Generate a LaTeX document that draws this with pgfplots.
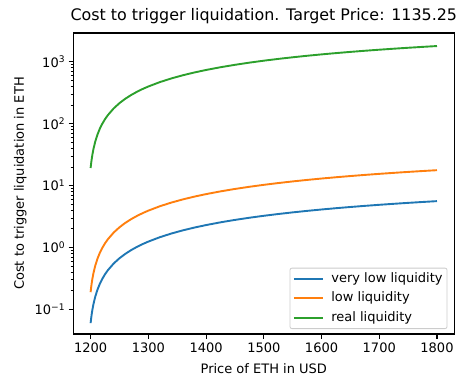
\documentclass[border=0pt]{standalone}
\usepackage{fontspec}
\setmainfont{DejaVu Sans}
\usepackage{pgfplots}
\usepackage{pgfplotstable}
\pgfplotsset{compat=1.18}
\definecolor{tabblue}{HTML}{1F77B4}
\definecolor{taborange}{HTML}{FF7F0E}
\definecolor{tabgreen}{HTML}{2CA02C}
\newcommand{\fs}{\fontsize{13}{15.6}\selectfont}
\pgfplotstableread{
x blue orange green
1200 0.0600 0.1897 19.20
1201 0.0726 0.2296 23.23
1202 0.0851 0.2691 27.23
1203 0.0977 0.3089 31.26
1205 0.1227 0.3880 39.26
1208 0.1601 0.5062 51.23
1212 0.2098 0.6634 67.14
1216 0.2592 0.8196 82.94
1220 0.3084 0.9752 98.69
1225 0.3696 1.1687 118.27
1230 0.4304 1.3609 137.73
1240 0.551 1.7423 176.3
1250 0.670 2.1185 214.4
1260 0.7875 2.4901 252.0
1270 0.9037 2.8575 289.2
1280 1.0186 3.2208 325.95
1290 1.1321 3.5797 362.27
1300 1.244 3.9335 398.1
1320 1.4648 4.6317 468.7
1340 1.6804 5.3134 537.7
1360 1.8912 5.9800 605.2
1380 2.0975 6.6323 671.2
1400 2.299 7.2694 735.7
1425 2.5455 8.0489 814.6
1450 2.785 8.8062 891.2
1475 3.019 9.5461 966.1
1500 3.247 10.267 1039.0
1525 3.469 10.969 1110.1
1550 3.686 11.655 1179.5
1575 3.898 12.325 1247.4
1600 4.104 12.977 1313.3
1625 4.306 13.616 1377.9
1650 4.503 14.238 1441.0
1675 4.696 14.849 1502.7
1700 4.885 15.446 1563.2
1725 5.069 16.028 1622.1
1750 5.250 16.601 1680.0
1775 5.426 17.157 1736.3
1800 5.599 17.704 1791.7
}\datatable
\begin{document}
\begin{tikzpicture}
\begin{axis}[
  scale only axis,
  width=381pt, height=301pt,
  ymode=log,
  xmin=1170, xmax=1830,
  ymin=0.04, ymax=2910,
  xtick={1200,1300,1400,1500,1600,1700,1800},
  ytick={0.1,1,10,100,1000},
  yticklabels={10\textsuperscript{−1},10\textsuperscript{0},10\textsuperscript{1},10\textsuperscript{2},10\textsuperscript{3}},
  /pgf/number format/assume math mode=true,
  /pgf/number format/1000 sep={},
  xtick pos=bottom, ytick pos=left,
  tick align=outside,
  major tick length=4.7pt, minor tick length=2.7pt,
  every major tick/.style={black, line width=1.07pt},
  every minor tick/.style={black, line width=0.8pt},
  axis line style={black, line width=1.07pt},
  ticklabel style={font=\fs},
  xticklabel style={yshift=-1pt},
  xlabel={Price of ETH in USD},
  ylabel={Cost to trigger liquidation in ETH},
  xlabel style={font=\fs, at={(rel axis cs:0.5,0)}, anchor=center, yshift=-35pt},
  ylabel style={font=\fs, at={(rel axis cs:0,0.5)}, anchor=center, yshift=53pt},
  title={Cost to trigger liquidation. Target Price: 1135.25},
  title style={font=\fontsize{15.9}{19}\selectfont, at={(rel axis cs:0.5,1)}, anchor=center, yshift=10.5pt},
  legend cell align=left,
  legend style={at={(0.982,0.0166)}, anchor=south east, draw=black!20, line width=0.8pt,
    rounded corners=2pt, fill=white, font=\fs, inner xsep=3pt, inner ysep=3pt,
    nodes={inner sep=1.5pt, text height=9.5pt, text depth=3pt},
    row sep=4pt, column sep=6pt},
  legend image code/.code={\draw[#1] (0pt,0pt) -- (29pt,0pt);},
  every axis plot/.append style={line width=1.9pt},
]
\addplot[tabblue] table[x=x, y=blue] {\datatable};
\addlegendentry{very low liquidity}
\addplot[taborange] table[x=x, y=orange] {\datatable};
\addlegendentry{low liquidity}
\addplot[tabgreen] table[x=x, y=green] {\datatable};
\addlegendentry{real liquidity}
\end{axis}
\pgfresetboundingbox
\path[use as bounding box] ([xshift=-73.3pt,yshift=-45pt]current axis.south west) rectangle ([xshift=4.7pt,yshift=33pt]current axis.north east);
\end{tikzpicture}
\end{document}
